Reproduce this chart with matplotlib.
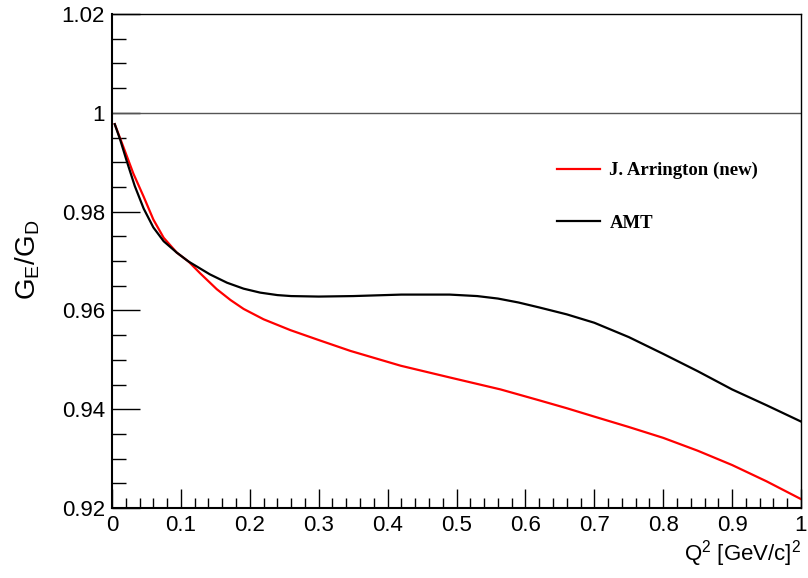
import matplotlib
matplotlib.use("Agg")
import matplotlib.pyplot as plt
from matplotlib.ticker import MultipleLocator

# AMT curve (black)
amt_q2 = [0.004, 0.012, 0.021, 0.033, 0.046, 0.060, 0.075, 0.094, 0.111, 0.142, 0.167, 0.191,
          0.215, 0.24, 0.26, 0.30, 0.35, 0.42, 0.49, 0.53, 0.56, 0.59, 0.62, 0.66, 0.70,
          0.75, 0.80, 0.85, 0.90, 0.95, 1.0]
amt_ratio = [0.9977, 0.9945, 0.9904, 0.9852, 0.9806, 0.9768, 0.9740, 0.9717, 0.9699, 0.9673,
             0.9656, 0.9644, 0.9636, 0.9631, 0.9629, 0.9628, 0.9629, 0.9632, 0.9632, 0.9629,
             0.9624, 0.9616, 0.9606, 0.9592, 0.9575, 0.9546, 0.9512, 0.9477, 0.9440, 0.9408,
             0.9375]

# J. Arrington (new) curve (red)
arr_q2 = [0.004, 0.0165, 0.031, 0.046, 0.060, 0.075, 0.094, 0.111, 0.128, 0.152, 0.172, 0.191,
          0.22, 0.259, 0.30, 0.346, 0.419, 0.491, 0.564, 0.62, 0.66, 0.70, 0.75, 0.80, 0.85,
          0.90, 0.95, 1.0]
arr_ratio = [0.9977, 0.9931, 0.9877, 0.9830, 0.9784, 0.9747, 0.9717, 0.9699, 0.9675, 0.9643,
             0.9621, 0.9603, 0.9582, 0.9560, 0.9540, 0.9518, 0.9488, 0.9464, 0.9440, 0.9418,
             0.9402, 0.9385, 0.9364, 0.9342, 0.9316, 0.9287, 0.9254, 0.9218]

plt.rcParams["font.family"] = "Liberation Sans"
fig = plt.figure(figsize=(8.08, 5.78), dpi=100)
ax = fig.add_axes([112/808, 1-508/578, 689/808, 494/578])

ax.axhline(1.0, color="#555555", lw=1.0)
p1, = ax.plot(arr_q2, arr_ratio, color="red", lw=1.6)
p2, = ax.plot(amt_q2, amt_ratio, color="black", lw=1.6)

ax.set_xlim(0, 1)
ax.set_ylim(0.92, 1.02)
ax.xaxis.set_minor_locator(MultipleLocator(0.02))
ax.yaxis.set_minor_locator(MultipleLocator(0.005))
ax.set_xticks([0, 0.1, 0.2, 0.3, 0.4, 0.5, 0.6, 0.7, 0.8, 0.9, 1.0])
ax.set_xticklabels(["0", "0.1", "0.2", "0.3", "0.4", "0.5", "0.6", "0.7", "0.8", "0.9", "1"])
ax.set_yticks([0.92, 0.94, 0.96, 0.98, 1.0, 1.02])
ax.set_yticklabels(["0.92", "0.94", "0.96", "0.98", "1", "1.02"])
ax.tick_params(axis="x", which="major", direction="in", length=14, width=1, labelsize=16, pad=5,
               top=False)
ax.tick_params(axis="x", which="minor", direction="in", length=7, width=1, top=False)
ax.tick_params(axis="y", which="major", direction="in", length=20, width=1, labelsize=16, pad=5,
               right=False)
ax.tick_params(axis="y", which="minor", direction="in", length=10, width=1, right=False)
for s in ["left", "bottom"]:
    ax.spines[s].set_linewidth(1.5)
for s in ["top", "right"]:
    ax.spines[s].set_linewidth(1.0)

fig.text(28/808, 1-260/578, "$\\mathregular{G_E/G_D}$", rotation=90, fontsize=20,
         ha="center", va="center")
fig.text(801/808, 1-554/578, "$\\mathregular{Q^2}$ [GeV/c]$\\mathregular{^2}$", fontsize=16,
         ha="right", va="center")

ax.legend([p1, p2], ["J. Arrington (new)", "AMT"], loc="upper left",
          bbox_to_anchor=(428/689, 1-131/494), frameon=False, handlelength=2.3,
          labelspacing=1.9, handletextpad=0.5,
          prop={"family": "Liberation Serif", "weight": "bold", "size": 13.5})

fig.savefig("out.png", dpi=100)
